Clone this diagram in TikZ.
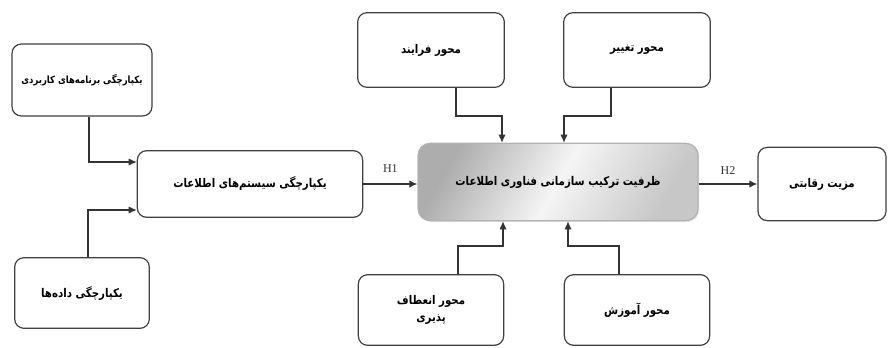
\documentclass[tikz,border=0pt]{standalone}
\usepackage{fontspec}
\usetikzlibrary{arrows.meta, positioning, calc, shadows}
\setmainfont{Liberation Serif}
\newfontfamily\fafont[Script=Arabic, FakeStretch=0.85]{DejaVu Sans}
\TeXXeTstate=1

\begin{document}
\begin{tikzpicture}[
    x=0.75pt, y=-0.75pt,
    box/.style={draw=black!75, line width=0.9pt, rounded corners=7pt, fill=white,
        font=\fafont\bfseries\fontsize{9}{12}\selectfont, align=center, inner sep=2pt},
    core/.style={box, draw=black!30, rounded corners=9pt, shading=axis,
        left color=black!32, right color=black!22, middle color=black!4,
        shading angle=60, drop shadow={opacity=0.2, shadow xshift=1pt, shadow yshift=-1pt}},
    arr/.style={draw=black!80, line width=0.9pt, -{Latex[length=6pt,width=5.5pt]}},
    hyp/.style={font=\small, text=black!80},
]
    \useasboundingbox (0,0) rectangle (891,347);

    % left side
    \node[box, font=\fafont\bfseries\fontsize{7.5}{9}\selectfont, minimum width=105pt, minimum height=54pt] (apps) at (82,80)
        {\beginR یکپارچگی برنامه‌های کاربردی\endR};
    \node[box, minimum width=169pt, minimum height=50pt] (infosys) at (250,184)
        {\beginR یکپارچگی سیستم‌های اطلاعات\endR};
    \node[box, minimum width=101pt, minimum height=53pt] (data) at (82,293)
        {\beginR یکپارچگی داده‌ها\endR};

    % center
    \node[core, minimum width=210pt, minimum height=58pt] (capab) at (558,182)
        {\beginR ظرفیت ترکیب سازمانی فناوری اطلاعات\endR};
    \node[box, minimum width=96pt, minimum height=55pt] (adv) at (822,184)
        {\beginR مزیت رقابتی\endR};

    % axes
    \node[box, minimum width=110pt, minimum height=56pt] (proc) at (431,50)
        {\beginR محور فرایند\endR};
    \node[box, minimum width=110pt, minimum height=56pt] (chg) at (637,50)
        {\beginR محور تغییر\endR};
    \node[box, minimum width=109pt, minimum height=53pt] (flex) at (431,310)
        {\beginR محور انعطاف\endR\\[1pt] \beginR پذیری\endR};
    \node[box, minimum width=109pt, minimum height=53pt] (edu) at (637,310)
        {\beginR محور آموزش\endR};

    % connectors
    \draw[arr] ($(apps.south)+(7,0)$) |- ($(infosys.west)+(0,-22)$);
    \draw[arr] ($(data.north)+(6,0)$) |- ($(infosys.west)+(0,26)$);
    \draw[arr] (infosys.east) -- (infosys.east -| capab.west)
        node[hyp, midway, above=5pt] {H1};
    \draw[arr] (capab.east |- adv.west) -- (adv.west)
        node[hyp, midway, above=3pt] {H2};

    \draw[arr] ($(proc.south)+(25,0)$) -- ++(0,28) -| ($(capab.north)+(-56,0)$);
    \draw[arr] ($(chg.south)+(-26,0)$) -- ++(0,28) -| ($(capab.north)+(6,0)$);
    \draw[arr] ($(flex.north)+(27,0)$) -- ++(0,-28) -| ($(capab.south)+(-55,0)$);
    \draw[arr] ($(edu.north)+(-18,0)$) -- ++(0,-28) -| ($(capab.south)+(10,0)$);
\end{tikzpicture}
\end{document}
